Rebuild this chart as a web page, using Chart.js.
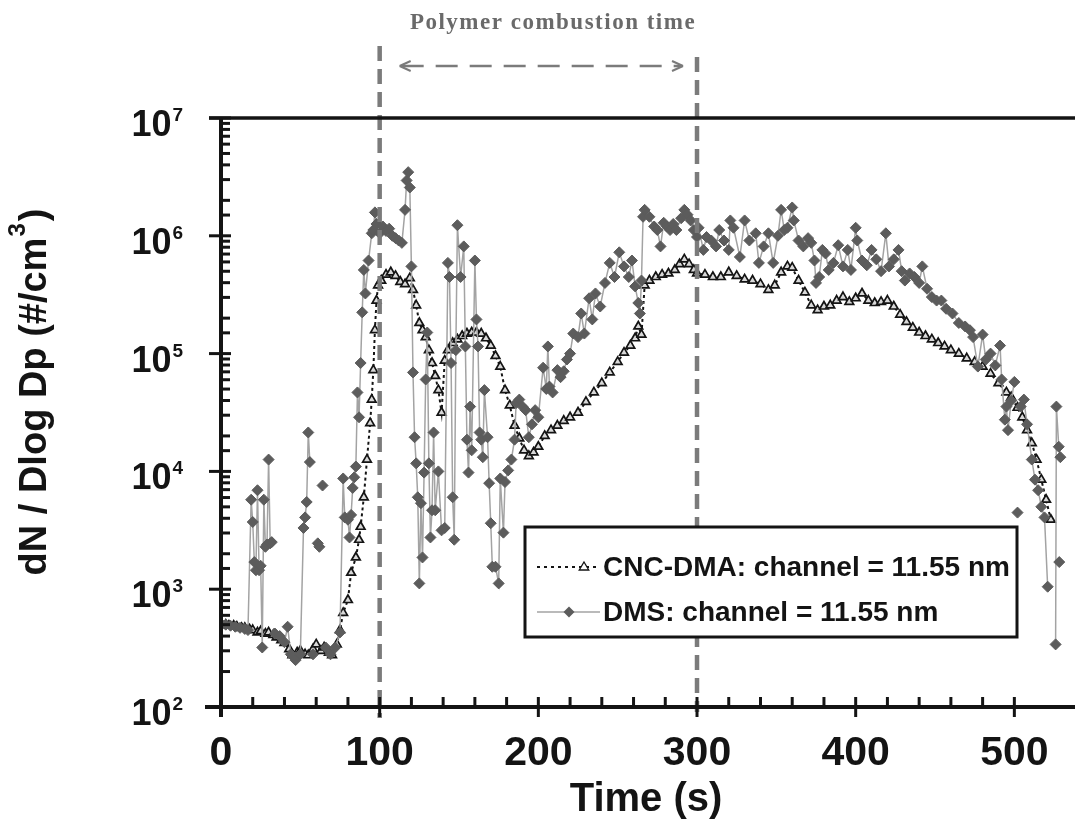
<!DOCTYPE html>
<html lang="en">
<head>
<meta charset="UTF-8">
<title>dN/dlogDp vs time - CNC-DMA vs DMS</title>
<script src="https://cdn.jsdelivr.net/npm/chart.js"></script>
<style>
  body { margin: 0; background: #ffffff; }
  #wrap { width: 1075px; height: 821px; }
</style>
</head>
<body>
<div id="wrap"><canvas id="chart" width="1075" height="821"></canvas></div>
<script>
// [time (s), dN/dlogDp (#/cm3)]
const cncDma = [
  [0, 510], [3, 500], [5, 490], [8, 490], [10, 480], [13, 470], [15, 470], [18, 455], [20, 450], [23, 430],
  [25, 440], [28, 420], [30, 430], [33, 410], [35, 390], [38, 370], [40, 350], [43, 310], [45, 275], [48, 290],
  [50, 300], [53, 280], [55, 275], [58, 310], [60, 340], [63, 300], [65, 320], [68, 290], [70, 275], [73, 340],
  [75, 450], [77, 630], [80, 810], [82, 1380], [85, 1860], [87, 2630], [88, 3390], [90, 6030], [92, 1.26e4], [94, 2.57e4],
  [95, 4.07e4], [96, 7.24e4], [97, 1.58e5], [98, 2.82e5], [99, 3.80e5], [101, 4.17e5], [104, 4.68e5], [107, 4.90e5], [110, 4.57e5], [113, 4.07e5],
  [116, 3.89e5], [119, 4.37e5], [121, 3.47e5], [123, 2.57e5], [125, 1.82e5], [127, 1.58e5], [129, 1.38e5], [131, 1.07e5], [133, 8.32e4], [135, 6.46e4],
  [137, 4.90e4], [139, 3.16e4], [141, 8.71e4], [143, 1.07e5], [146, 1.23e5], [149, 1.32e5], [152, 1.41e5], [155, 1.48e5], [158, 1.51e5], [161, 1.51e5],
  [164, 1.48e5], [167, 1.35e5], [170, 1.17e5], [173, 9.55e4], [176, 7.76e4], [179, 4.90e4], [182, 3.63e4], [185, 2.45e4], [188, 1.91e4], [191, 1.51e4],
  [194, 1.35e4], [197, 1.45e4], [200, 1.62e4], [204, 2.00e4], [208, 2.24e4], [212, 2.45e4], [216, 2.69e4], [220, 2.88e4], [225, 3.16e4], [230, 3.89e4],
  [235, 4.68e4], [240, 5.62e4], [245, 6.92e4], [250, 8.51e4], [254, 1.02e5], [258, 1.17e5], [261, 1.35e5], [263, 1.70e5], [265, 1.45e5], [267, 3.80e5],
  [270, 4.17e5], [274, 4.47e5], [278, 4.68e5], [282, 4.79e5], [286, 5.13e5], [289, 5.75e5], [292, 6.31e5], [295, 5.75e5], [298, 5.13e5], [300, 4.79e5],
  [305, 4.68e5], [310, 4.47e5], [315, 4.47e5], [320, 4.90e5], [325, 4.57e5], [330, 4.27e5], [335, 4.17e5], [340, 3.89e5], [345, 3.47e5], [349, 3.80e5],
  [353, 4.90e5], [357, 5.50e5], [360, 5.37e5], [364, 4.17e5], [368, 3.31e5], [372, 2.57e5], [376, 2.34e5], [380, 2.51e5], [384, 2.57e5], [388, 2.82e5],
  [392, 3.02e5], [396, 2.75e5], [400, 2.95e5], [404, 3.24e5], [408, 2.82e5], [412, 2.69e5], [416, 2.75e5], [420, 2.82e5], [424, 2.51e5], [428, 2.14e5],
  [432, 1.86e5], [436, 1.66e5], [440, 1.51e5], [444, 1.41e5], [448, 1.32e5], [452, 1.23e5], [456, 1.15e5], [460, 1.07e5], [465, 1.00e5], [470, 9.12e4],
  [475, 8.51e4], [480, 7.76e4], [485, 6.76e4], [490, 5.62e4], [495, 4.68e4], [498, 4.27e4], [502, 3.47e4], [505, 2.88e4], [508, 2.24e4], [511, 1.74e4],
  [514, 1.26e4], [517, 8510], [520, 5750], [523, 3890]
];

// null = gap in the DMS record
const dms = [
  [0, 510], [3, 500], [6, 490], [9, 480], [12, 470], [15, 460], [17, 450], [19, 5750], [20, 3720], [21, 1700],
  [22, 1450], [23, 6920], [24, 1450], [25, 1580], [26, 320], [27, 5750], [28, 2290], [29, 2400], [30, 12600], [31, 2450],
  [32, 2510], [33, null], [34, 420], [37, 400], [40, 355], [42, 480], [44, 280], [47, 250], [50, 280], [52, 3310],
  [53, 4070], [54, 5500], [55, 21400], [56, 12000], [57, null], [58, 280], [59, null], [61, 2450], [62, 2290], [63, null],
  [64, 7590], [65, null], [66, 320], [69, 280], [72, 320], [75, 430], [77, 8710], [78, 4070], [80, 3890], [81, 2750],
  [82, 4270], [83, 7240], [84, 8910], [85, 11000], [86, 46800], [87, 28800], [88, 83200], [89, 2.24e5], [90, 5.13e5], [91, 3.24e5],
  [93, 6.17e5], [95, 1.05e6], [96, 1.12e6], [97, 1.58e6], [98, 1.26e6], [100, 1.05e6], [102, 1.20e6], [104, 1.10e6], [106, 1.15e6], [108, 1.00e6],
  [110, 9.55e5], [112, 9.12e5], [114, 8.71e5], [116, 1.66e6], [117, 2.95e6], [118, 3.47e6], [119, 2.57e6], [120, 5.50e5], [121, 6.92e4], [122, 1.95e4],
  [123, 1.17e4], [124, 6030], [125, 1120], [126, 5370], [127, 1860], [128, 9770], [129, 6.03e4], [130, 1.51e5], [131, 1.17e4], [132, 2750],
  [133, 4680], [134, 2.14e4], [135, 4680], [137, 1.00e4], [139, 3160], [141, 3310], [143, 5.89e5], [144, 4.47e5], [145, 8.32e4], [146, 6030],
  [147, 2630], [148, 1.07e5], [149, 1.23e6], [151, 4.47e5], [153, 8.13e5], [154, 1.15e5], [155, 1.86e4], [156, 9770], [157, 3.55e4], [158, 1.51e4],
  [160, 6.17e5], [161, 1.95e5], [162, 1.15e5], [163, 2.14e4], [164, 1.86e4], [165, 1.32e4], [166, 4.90e4], [168, 1.95e4], [169, 7940], [170, 3630],
  [171, 1550], [173, 1550], [175, 1120], [176, 8710], [178, 3020], [179, 8130], [181, 1.02e4], [183, 1.26e4], [185, 1.86e4], [186, 3.80e4],
  [188, 4.07e4], [190, 3.55e4], [192, 3.31e4], [194, 1.95e4], [196, 2.51e4], [198, 3.31e4], [200, 2.88e4], [203, 7.59e4], [205, 5.01e4], [206, 1.15e5],
  [207, 5.25e4], [209, 4.68e4], [212, 7.24e4], [214, 6.31e4], [216, 7.08e4], [218, 8.91e4], [220, 1.00e5], [222, 1.48e5], [225, 1.38e5], [227, 2.19e5],
  [229, 1.48e5], [232, 2.95e5], [234, 1.95e5], [236, 3.24e5], [239, 2.51e5], [242, 3.98e5], [245, 5.89e5], [248, 4.47e5], [251, 7.24e5], [254, 5.50e5],
  [257, 4.47e5], [259, 6.17e5], [261, 3.72e5], [263, 2.69e5], [264, 2.19e5], [265, 4.17e5], [266, 1.45e6], [267, 1.66e6], [270, 1.45e6], [273, 1.20e6],
  [275, 1.12e6], [277, 8.13e5], [279, 1.29e6], [281, 1.20e6], [283, 1.12e6], [285, 1.26e6], [287, 1.12e6], [290, 1.41e6], [292, 1.66e6], [294, 1.51e6],
  [296, 1.35e6], [298, 1.12e6], [300, 9.77e5], [301, 1.17e6], [304, 7.59e5], [306, 9.77e5], [309, 9.12e5], [312, 8.13e5], [314, 1.12e6], [317, 9.12e5],
  [320, 7.59e5], [321, 1.35e6], [323, 1.17e6], [327, 6.61e5], [330, 1.35e6], [333, 9.12e5], [337, 1.05e6], [339, 5.89e5], [342, 8.13e5], [345, 1.05e6],
  [348, 5.89e5], [351, 1.00e6], [353, 1.66e6], [355, 1.12e6], [357, 1.17e6], [360, 1.74e6], [361, 1.35e6], [364, 9.12e5], [367, 8.13e5], [370, 9.55e5],
  [372, 8.71e5], [374, 6.17e5], [375, 3.98e5], [377, 4.47e5], [379, 7.59e5], [381, 7.08e5], [383, 5.13e5], [386, 5.89e5], [389, 8.32e5], [392, 5.50e5],
  [395, 7.59e5], [397, 5.13e5], [400, 1.17e6], [401, 9.12e5], [404, 6.17e5], [407, 5.62e5], [410, 7.59e5], [413, 6.31e5], [416, 5.01e5], [419, 1.05e6],
  [421, 5.50e5], [424, 6.31e5], [427, 7.59e5], [429, 5.01e5], [431, 4.17e5], [434, 4.79e5], [437, 4.47e5], [440, 3.98e5], [442, 5.50e5], [445, 3.55e5],
  [448, 3.02e5], [451, 2.82e5], [454, 2.82e5], [457, 2.40e5], [461, 2.19e5], [465, 1.82e5], [469, 1.70e5], [472, 1.58e5], [474, 1.38e5], [477, 7.76e4],
  [480, 1.45e5], [482, 8.91e4], [485, 1.00e5], [488, 7.94e4], [491, 1.17e5], [492, 6.03e4], [494, 2.75e4], [495, 3.55e4], [496, 2.24e4], [498, 3.98e4],
  [500, 5.75e4], [501, null], [502, 4470], [503, null], [504, 3.55e4], [506, 4.07e4], [508, 2.51e4], [511, 1.26e4], [513, 8510], [515, 6920],
  [517, 5010], [519, 4070], [521, 1050], [522, null], [526, 340], [526.5, 3.55e4], [528, 1.62e4], [529, 1.32e4], [529.5, null], [528.3, 1700]
];

const seriesNames = ['CNC-DMA: channel = 11.55 nm', 'DMS: channel = 11.55 nm'];
const xLabelTicks = [0, 100, 200, 300, 400, 500];
const yLabelTicks = [1e2, 1e3, 1e4, 1e5, 1e6, 1e7];
const yLabelExp = ['2', '3', '4', '5', '6', '7'];
const combustion = [100, 300];

const SANS = "'Liberation Sans', Arial, Helvetica, sans-serif";

function seg(ctx, x1, y1, x2, y2) {
  ctx.beginPath(); ctx.moveTo(x1, y1); ctx.lineTo(x2, y2); ctx.stroke();
}
function triangle(ctx, x, y, r) {
  ctx.beginPath();
  ctx.moveTo(x, y - r); ctx.lineTo(x + r * 0.95, y + r * 0.6); ctx.lineTo(x - r * 0.95, y + r * 0.6);
  ctx.closePath(); ctx.fill(); ctx.stroke();
}
function diamond(ctx, x, y, r) {
  ctx.beginPath();
  ctx.moveTo(x, y - r); ctx.lineTo(x + r, y); ctx.lineTo(x, y + r); ctx.lineTo(x - r, y);
  ctx.closePath(); ctx.fill();
}

const decor = {
  id: 'decor',
  afterDatasetsDraw(chart) {
    const ctx = chart.ctx;
    const xs = chart.scales.x, ys = chart.scales.y;
    const x0 = xs.getPixelForValue(0);
    const yTop = ys.getPixelForValue(1e7), yBot = ys.getPixelForValue(100);
    ctx.save();

    // combustion window markers
    ctx.strokeStyle = '#7b7b7b';
    ctx.lineWidth = 4.5;
    ctx.setLineDash([15, 8]);
    const xa = xs.getPixelForValue(combustion[0]), xb = xs.getPixelForValue(combustion[1]);
    seg(ctx, xa, 46, xa, yBot + 11);
    seg(ctx, xb, 57, xb, yBot + 5);
    ctx.lineWidth = 2.5;
    ctx.setLineDash([22, 12]);
    seg(ctx, xa + 22, 66, xb - 16, 66);
    ctx.setLineDash([]);
    ctx.lineWidth = 2;
    seg(ctx, xa + 20, 66, xa + 31, 61); seg(ctx, xa + 20, 66, xa + 31, 71);
    seg(ctx, xb - 14, 66, xb - 25, 61); seg(ctx, xb - 14, 66, xb - 25, 71);

    ctx.fillStyle = '#6a6a6a';
    ctx.font = "bold 23px 'Liberation Serif', 'Times New Roman', serif";
    ctx.textAlign = 'center';
    ctx.textBaseline = 'alphabetic';
    ctx.letterSpacing = '1.5px';
    ctx.fillText('Polymer combustion time', 553, 29);
    ctx.letterSpacing = '0px';

    // frame and axes
    ctx.strokeStyle = '#141414';
    ctx.lineWidth = 3.5;
    seg(ctx, 209, yTop, chart.width, yTop);
    ctx.lineWidth = 4;
    seg(ctx, x0, yTop, x0, yBot + 10);
    seg(ctx, 205, yBot, chart.width, yBot);

    // y tick marks from the scale's own ticks
    ctx.lineWidth = 3;
    ys.ticks.forEach(t => {
      const p = ys.getPixelForValue(t.value);
      const e = Math.log10(t.value);
      if (Math.abs(e - Math.round(e)) < 1e-6) seg(ctx, x0 - 12, p, x0 + 10, p);
      else seg(ctx, x0, p, x0 + 9, p);
    });
    // x tick marks
    xs.ticks.forEach(t => {
      if (t.value % 20 !== 0) return;
      const p = xs.getPixelForValue(t.value);
      if (t.value % 100 === 0) seg(ctx, p, yBot - 10, p, yBot + 10);
      else seg(ctx, p, yBot - 10, p, yBot);
    });

    // tick labels
    ctx.fillStyle = '#141414';
    ctx.textBaseline = 'alphabetic';
    yLabelTicks.forEach((v, i) => {
      const p = ys.getPixelForValue(v);
      ctx.font = 'bold 19px ' + SANS;
      ctx.textAlign = 'right';
      ctx.fillText(yLabelExp[i], 183, p + 3);
      const w = ctx.measureText(yLabelExp[i]).width;
      ctx.font = 'bold 36px ' + SANS;
      ctx.fillText('10', 183 - w - 1, p + 18);
    });
    ctx.font = 'bold 41px ' + SANS;
    ctx.textAlign = 'center';
    xLabelTicks.forEach(v => {
      ctx.fillText(String(v), xs.getPixelForValue(v), yBot + 58);
    });
    ctx.font = 'bold 40px ' + SANS;
    ctx.fillText('Time (s)', 646, 811);

    // y axis title with superscript
    ctx.save();
    const parts = ['dN / Dlog Dp (#/cm', '3', ')'];
    ctx.font = 'bold 38px ' + SANS;
    const w1 = ctx.measureText(parts[0]).width, w3 = ctx.measureText(parts[2]).width;
    ctx.font = 'bold 24px ' + SANS;
    const w2 = ctx.measureText(parts[1]).width;
    const total = w1 + w2 + 3 + w3;
    ctx.translate(46, 392 + total / 2);
    ctx.rotate(-Math.PI / 2);
    ctx.textAlign = 'left';
    ctx.font = 'bold 38px ' + SANS;
    ctx.fillText(parts[0], 0, 0);
    ctx.font = 'bold 24px ' + SANS;
    ctx.fillText(parts[1], w1 + 1, -21);
    ctx.font = 'bold 38px ' + SANS;
    ctx.fillText(parts[2], w1 + w2 + 3, 0);
    ctx.restore();

    // legend box
    const ds = chart.data.datasets;
    ctx.fillStyle = '#ffffff';
    ctx.fillRect(525, 527, 492, 110);
    ctx.strokeStyle = '#141414';
    ctx.lineWidth = 3;
    ctx.strokeRect(525, 527, 492, 110);
    ctx.lineWidth = 1.8;
    ctx.strokeStyle = ds[0].borderColor;
    ctx.setLineDash([3, 4]);
    seg(ctx, 537, 567, 600, 567);
    ctx.setLineDash([]);
    ctx.fillStyle = '#ffffff';
    ctx.lineWidth = 1.3;
    triangle(ctx, 584, 567, 5);
    ctx.strokeStyle = ds[1].borderColor;
    ctx.lineWidth = 1.6;
    seg(ctx, 537, 612, 600, 612);
    ctx.fillStyle = ds[1].pointBackgroundColor;
    diamond(ctx, 569, 612, 5.5);
    ctx.fillStyle = '#141414';
    ctx.font = 'bold 28px ' + SANS;
    ctx.textAlign = 'left';
    ctx.textBaseline = 'middle';
    ctx.fillText(seriesNames[0], 603, 568);
    ctx.fillText(seriesNames[1], 603, 613);
    ctx.restore();
  }
};

new Chart(document.getElementById('chart'), {
  type: 'line',
  data: {
    datasets: [
      {
        label: seriesNames[0],
        data: cncDma,
        borderColor: '#141414',
        borderWidth: 2,
        borderDash: [3, 3],
        pointStyle: 'triangle',
        pointRadius: 5,
        pointBackgroundColor: '#d8d8d8',
        pointBorderColor: '#141414',
        pointBorderWidth: 1.7,
        tension: 0,
        order: 2
      },
      {
        label: seriesNames[1],
        data: dms,
        borderColor: '#a3a3a3',
        borderWidth: 1.5,
        pointStyle: 'rectRot',
        pointRadius: 5.5,
        pointBackgroundColor: '#5c5c5c',
        pointBorderColor: '#5c5c5c',
        pointBorderWidth: 1,
        spanGaps: false,
        tension: 0,
        order: 1
      }
    ]
  },
  options: {
    responsive: false,
    animation: false,
    events: [],
    layout: { padding: { top: 118, right: 0, left: 0, bottom: 0 } },
    plugins: { legend: { display: false }, tooltip: { enabled: false } },
    scales: {
      x: {
        type: 'linear', min: 0, max: 534,
        ticks: { display: false, stepSize: 20 },
        grid: { display: false }, border: { display: false },
        afterFit: s => { s.height = 114; }
      },
      y: {
        type: 'logarithmic', min: 100, max: 1e7,
        ticks: { display: false },
        grid: { display: false }, border: { display: false },
        afterFit: s => { s.width = 221; }
      }
    }
  },
  plugins: [decor]
});
</script>
</body>
</html>
